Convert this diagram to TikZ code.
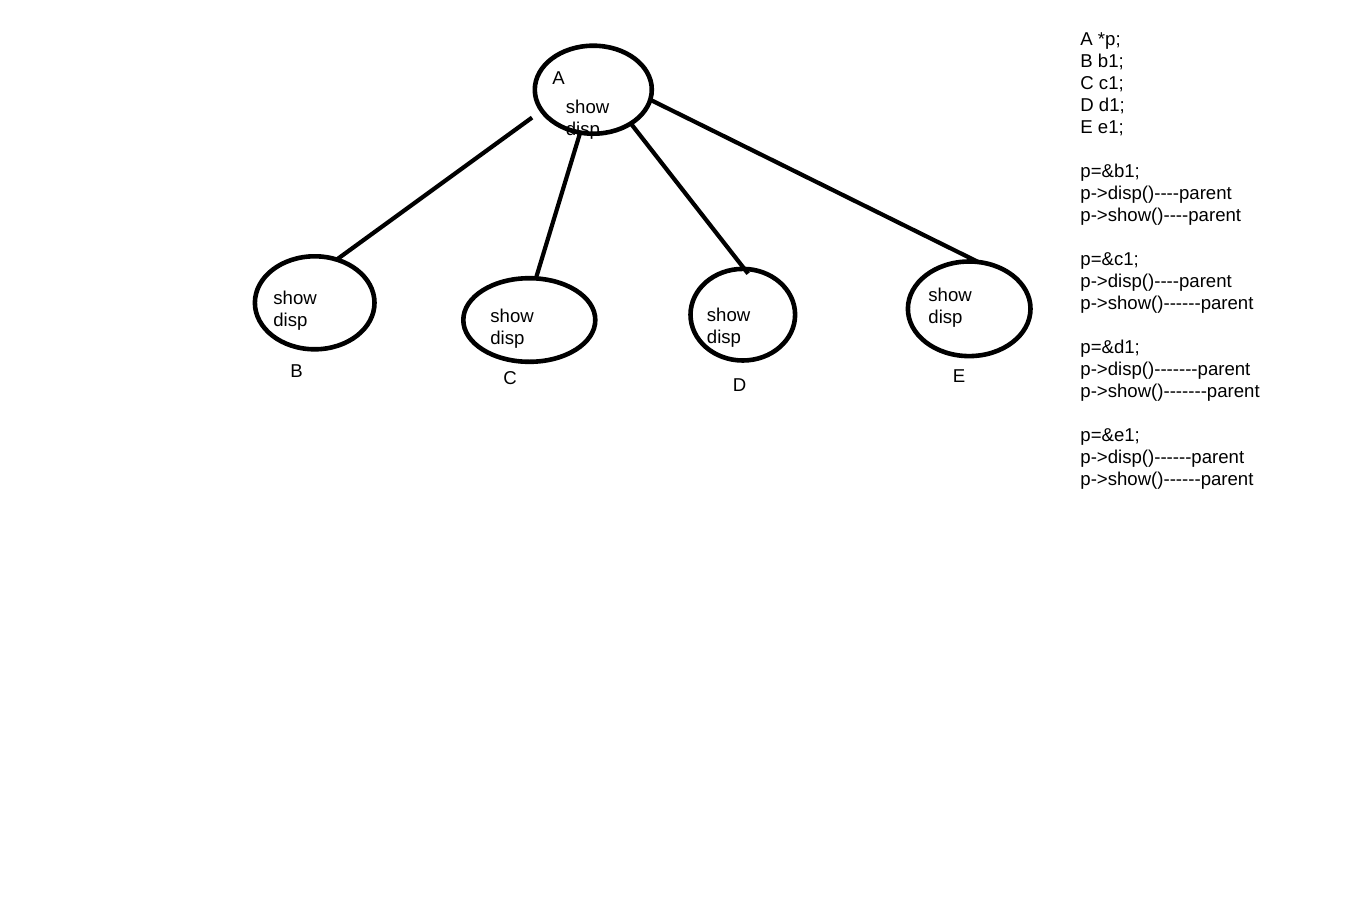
\documentclass[tikz,border=0pt]{standalone}
\usepackage{fontspec}
\setmainfont{Liberation Sans}[Ligatures=TeXOff]
\usetikzlibrary{shapes.geometric}
\begin{document}
\begin{tikzpicture}[x=0.5pt,y=-0.5pt,
  classbox/.style={ellipse,draw,line width=2.3pt,inner sep=0pt,outer sep=0pt},
  link/.style={line width=2.1pt},
  txt/.style={anchor=base west,inner sep=0pt,font=\fontsize{9.3pt}{11pt}\selectfont}]
\useasboundingbox (0,0) rectangle (1360,910);

% class objects
\node[classbox,minimum width=58.5pt,minimum height=44pt] (A) at (593.3,89.7) {};
\node[classbox,minimum width=59.8pt,minimum height=46.5pt] (B) at (314.7,302.8) {};
\node[classbox,minimum width=66pt,minimum height=41.8pt] (C) at (529.3,320) {};
\node[classbox,minimum width=52.3pt,minimum height=45.8pt] (D) at (742.8,314.7) {};
\node[classbox,minimum width=61.3pt,minimum height=47.3pt] (E) at (969.2,308.8) {};

% texts inside and under the ellipses
\node[txt] (tA) at (552,84) {A};
\node[txt] (sA) at (565.5,113) {show};
\node[txt] (dA) at (565.5,135) {disp};
\node[txt] (sB) at (273,304) {show};
\node[txt] (dB) at (273,326) {disp};
\node[txt] (lB) at (290,377) {B};
\node[txt] (sC) at (490,322) {show};
\node[txt] (dC) at (490,344) {disp};
\node[txt] (lC) at (503,384) {C};
\node[txt] (sD) at (706.5,321) {show};
\node[txt] (dD) at (706.5,343) {disp};
\node[txt] (lD) at (732.5,391) {D};
\node[txt] (sE) at (928,301) {show};
\node[txt] (dE) at (928,323) {disp};
\node[txt] (lE) at (952.5,382) {E};

% links from the base class to the derived ones
\draw[link,shorten <=6pt] (A.202.5) -- (B.63.5);
\draw[link] (A.253.8) -- (C.81);
\draw[link,shorten >=-3pt] (A.318.5) -- (D.88.4);
\draw[link] (A.350) -- (E.79.4);

% code listing
\foreach \row/\line in {0/{A *p;},1/{B b1;},2/{C c1;},3/{D d1;},4/{E e1;},
  6/{p=\&b1;},7/{p->disp()----parent},8/{p->show()----parent},
  10/{p=\&c1;},11/{p->disp()----parent},12/{p->show()------parent},
  14/{p=\&d1;},15/{p->disp()-------parent},16/{p->show()-------parent},
  18/{p=\&e1;},19/{p->disp()------parent},20/{p->show()------parent}}
  \node[txt] (code\row) at (1080,45+22*\row) {\line};
\end{tikzpicture}
\end{document}
